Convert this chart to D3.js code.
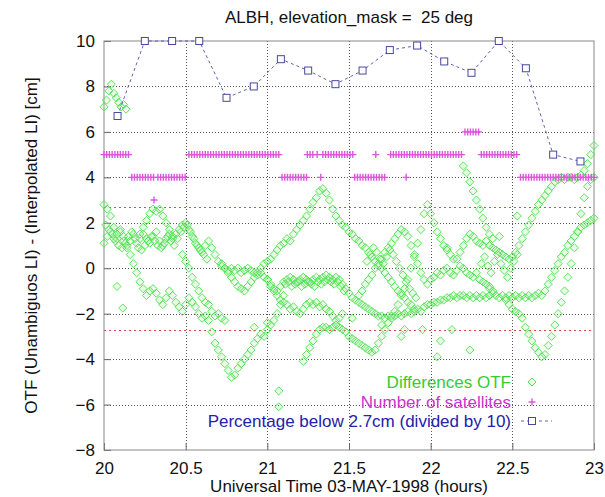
<!DOCTYPE html>
<html>
<head>
<meta charset="utf-8">
<script src="https://cdn.jsdelivr.net/npm/d3@7"></script>
<style>
  body { margin: 0; background: #fff; }
  text { font-family: "Liberation Sans", Arial, sans-serif; }
</style>
</head>
<body>
<div id="chart"></div>
<script>
// axis ticks
const xTicks = [20, 20.5, 21, 21.5, 22, 22.5, 23];
const yTicks = [-8, -6, -4, -2, 0, 2, 4, 6, 8, 10];
const limitLines = [2.7, -2.7];

// percentage below 2.7cm (divided by 10), one value per 10 minutes
const pctTimes = [20.083, 20.25, 20.417, 20.583, 20.75, 20.917, 21.083, 21.25, 21.417,
  21.583, 21.75, 21.917, 22.083, 22.25, 22.417, 22.583, 22.75, 22.917];
const pctValues = [6.7, 10, 10, 10, 7.5, 8.0, 9.2, 8.7, 8.1, 8.7, 9.6, 9.8, 9.1, 8.6, 10, 8.8, 5.0, 4.7];

// number of satellites: runs [from, to, count], one epoch per minute
const satStep = 1 / 60;
const satRuns = [
  [20.00, 20.16, 5], [20.17, 20.31, 4], [20.33, 20.50, 4], [20.52, 21.08, 5],
  [21.09, 21.24, 4], [21.245, 21.29, 5], [21.305, 21.32, 5], [21.34, 21.53, 5],
  [21.535, 21.73, 4], [21.755, 22.20, 5], [22.21, 22.30, 6], [22.31, 22.54, 5],
  [22.55, 23.00, 4]
];
const satSingles = [[20.306, 3], [21.327, 4], [21.664, 5], [21.85, 4]];

// differences OTF, one track per satellite arc, sampled every 0.02 h
const diffStep = 0.02;
const trackA = { t0: 20.00, v: [2.8, 2.6, 2.3, 1.8, 1.3, 1.6, 1.4, 1.0, 1.2, 1.5, 1.1, 1.3, 1.5, 1.3, 1.1, 1.4,
  1.6, 1.2, 1.0, 1.3, 1.5, 1.3, 1.5, 1.7, 1.9, 2.0, 1.7, 1.4, 1.1, 0.9, 0.7, 1.0, 1.2, 0.9, 0.6, 0.3,
  0.1, 0.0, -0.2, -0.4, -0.6, -0.8, -0.9, -1.0, -0.8, -0.6, -0.4, -0.2, 0.0, 0.2, 0.3, 0.4, 0.6, 0.8,
  1.0, 1.1, 1.3, 1.2, 1.5, 1.7, 1.9, 2.1, 2.3, 2.6, 2.9, 3.1, 3.4, 3.5, 3.3, 3.0, 2.6, 2.3, 2.1, 1.9,
  1.8, 1.6, 1.5, 1.3, 1.2, 1.0, 0.9, 0.7, 0.5, 0.3, 0.1, 0.0, -0.2, -0.4, -0.6, -0.8, -1.0, -1.1,
  -1.3, -1.5, -1.6, -1.8] };
const trackA2 = { t0: 20.22, v: [1.5, 1.8, 2.1, 2.4, 2.6, 2.5, 2.6, 2.3, 2.0, 1.7, 1.4] };
const trackA3 = { t0: 20.01, v: [1.9, 1.7, 1.5, 1.2, 1.0, 0.9, 1.1, 1.4, 1.6, 1.3, 0.9, 0.8, 1.0, 1.2,
  1.4, 1.2, 1.0, 0.9, 1.1, 1.4, 1.2, 1.0, 1.3, 1.6, 1.8, 1.9, 1.6, 1.3, 1.0, 0.8, 0.6, 0.4] };
const trackB = { t0: 20.00, v: [1.1, 1.4, 1.6, 1.3, 1.5, 1.7, 1.2, 0.9, 0.6, 0.2, -0.2, -0.6, -0.9, -1.2,
  -1.0, -0.9, -1.1, -1.4, -1.6, -1.3, -1.0, -1.2, -1.5, -1.7, -1.9, -1.6, -1.3, -1.5, -1.7, -2.0,
  -2.2, -2.1, -2.3, -2.8, -3.3, -3.6, -3.9, -4.2, -4.5, -4.8, -4.7, -4.4, -4.2, -4.0, -3.8, -3.6,
  -3.3, -3.1, -2.9, -3.0, -2.7, -2.5, -2.3, -2.0, -1.6, -1.2] };
const trackB2 = { t0: 20.48, v: [0.6, 0.3, 0.0, -0.4, -0.7, -1.0, -1.3, -1.5, -1.6, -1.9, -2.1, -2.0, -2.2, -2.3] };
const trackC = { t0: 20.72, v: [0.2, 0.0, -0.1, 0.0, -0.1, 0.0, -0.2, -0.1, 0.0, -0.1, -0.2, -0.3, -0.2,
  -0.4, -0.5, -0.7, -0.9, -1.0, -0.8, -0.6, -0.5, -0.4, -0.5, -0.6, -0.5, -0.4, -0.5, -0.6, -0.5,
  -0.4, -0.5, -0.4, -0.3, -0.4, -0.5, -0.4, -0.5, -0.7, -0.9, -1.1, -1.3, -1.4, -1.5, -1.6, -1.7,
  -1.8, -1.9, -2.0, -2.1, -2.1, -2.2, -2.1, -2.2, -2.1, -2.0, -2.1, -2.0, -1.9, -2.0, -1.9, -1.8,
  -1.9, -1.7, -1.6, -1.6, -1.5, -1.5, -1.4, -1.4, -1.3, -1.3, -1.2, -1.3, -1.2, -1.2, -1.3, -1.2,
  -1.3, -1.2, -1.3, -1.2, -1.3, -1.2, -1.1, -1.2, -1.3, -1.2, -1.3, -1.2, -1.3, -1.2, -1.3, -1.2,
  -1.3, -1.2, -1.3, -1.2, -1.1, -1.2, -1.0, -0.7, -0.4, -0.1, 0.2, 0.5, 0.7, 1.0, 1.2, 1.4, 1.6,
  1.8, 1.9, 2.0, 2.1, 2.2] };
const trackC2 = { t0: 21.11, v: [-0.7, -0.6, -0.8, -0.7, -0.6, -0.8, -0.7, -0.6, -0.7, -0.8, -0.6, -0.7,
  -0.6, -0.5, -0.6, -0.7, -0.6, -0.8, -1.0] };
const trackD = { t0: 21.00, v: [-0.5, -0.8, -1.0, -1.2, -1.4, -1.5, -1.6, -1.8, -1.7, -1.9, -2.0, -1.8,
  -1.6, -1.5, -1.6, -1.5, -1.7, -1.6, -1.8, -1.9, -2.1, -2.3, -2.2, -2.0] };
const trackE = { t0: 21.22, v: [-4.1, -3.8, -3.5, -3.2, -2.9, -2.7, -2.6, -2.6, -2.7, -2.6, -2.5, -2.6,
  -2.7, -2.8, -3.0, -3.1, -3.2, -3.3, -3.4, -3.5, -3.6, -3.7, -3.6, -3.3, -3.0, -2.7, -2.4, -2.1,
  -1.9, -1.6, -1.2, -0.9, -0.5, 0.0, 0.5, 1.1, 1.7, 2.4, 2.8, 2.4, 2.0, 1.6, 1.3, 1.0, 0.8, 0.6,
  0.4, 0.4, 0.7, 1.0, 1.3, 1.5, 1.4, 1.2, 1.1, 1.0, 1.2, 1.0, 0.9, 0.8, 0.7, 0.6, 0.5, 0.4, 0.5,
  0.7, 1.0, 1.3, 1.6, 1.9, 2.2, 2.5, 2.8, 3.0, 3.2, 3.4, 3.6, 3.8, 3.9, 4.0, 3.9, 4.0, 4.0, 3.9,
  4.0, 4.1, 4.3, 4.6, 5.0, 5.4] };
const trackF = { t0: 22.20, v: [4.5, 4.2, 3.8, 3.4, 3.0, 2.6, 2.2, 1.8, 1.5, 1.3] };
const trackG = { t0: 22.46, v: [-1.4, -1.6, -1.8, -1.9, -2.0, -2.2, -2.6, -2.9, -3.2, -3.5, -3.7, -3.9,
  -3.8, -3.4, -3.0, -2.5, -2.0, -1.5, -1.0, -0.4, 0.2, 0.9, 1.6, 2.4, 3.1, 3.6, 3.9, 4.0] };
const trackH = { t0: 21.56, v: [-1.2, -1.0, -0.7, -0.5, -0.3, 0.0, 0.2, 0.4, 0.7, 0.9, 1.1, 1.3, 1.5,
  1.7, 1.6, 1.4, 1.0, 0.6, 0.2, -0.2, -0.5, -0.7] };
const trackI = { t0: 22.00, v: [-0.5, -0.4, -0.2, -0.3, -0.1, 0.0, -0.2, -0.3, -0.1, 0.1, 0.0, -0.2,
  -0.3, -0.4, -0.2, -0.5, -0.6, -0.7, -0.8, -1.0] };
const trackJ = { t0: 21.61, v: [0.3, 0.6, 0.9, 0.7, 0.4, 0.2, 0.5, 0.8, 0.6, 0.3, 0.0, -0.3, -0.6,
  -0.9, -1.1, -1.3] };
const trackK = { t0: 22.31, v: [0.2, 0.5, 0.1, -0.2, 0.3, 0.6, 0.2, -0.1, -0.4, 0.0, 0.3, 0.6] };
const trackTop = { t0: 20.00, v: [7.1, 7.4, 7.8, 8.1, 7.7, 7.5, 7.3, 7.1, 7.2, 7.0], dt: 0.015 };
const diffTracks = [trackTop, trackA, trackA2, trackA3, trackB, trackB2, trackC, trackC2, trackD,
  trackE, trackF, trackG, trackH, trackI, trackJ, trackK];
const diffOutliers = [[20.08, -0.8], [20.115, -1.75], [21.07, -5.4], [21.07, -6.1], [21.82, -3.0],
  [21.84, -2.7], [21.95, -2.7], [22.04, -3.9], [22.06, -3.2], [22.13, -2.7], [22.24, -3.6], [22.53, 2.3],
  [21.52, -2.2], [21.7, -2.5], [22.1, 0.9], [22.36, -0.9], [22.42, 1.4], [20.92, -2.6], [21.0, -2.4]];

const legendLabels = ['Differences OTF', 'Number of satellites', 'Percentage below 2.7cm (divided by 10)'];

const width = 605, height = 497;
const margin = { top: 41, right: 11, bottom: 47, left: 104 };

const svg = d3.select('#chart').append('svg')
  .attr('width', width)
  .attr('height', height);

const x = d3.scaleLinear().domain([20, 23]).range([margin.left, width - margin.right]);
const y = d3.scaleLinear().domain([-8, 10]).range([height - margin.bottom, margin.top]);
const crisp = v => Math.round(v) + 0.5;

// grid
svg.append('g').selectAll('line')
  .data(xTicks.slice(1, -1))
  .enter().append('line')
  .attr('x1', d => crisp(x(d))).attr('x2', d => crisp(x(d)))
  .attr('y1', y(-8)).attr('y2', y(10))
  .attr('stroke', '#555').attr('stroke-width', 1).attr('stroke-dasharray', '1,2');
svg.append('g').selectAll('line')
  .data(yTicks.slice(1, -1))
  .enter().append('line')
  .attr('x1', x(20)).attr('x2', x(23))
  .attr('y1', d => crisp(y(d))).attr('y2', d => crisp(y(d)))
  .attr('stroke', '#555').attr('stroke-width', 1).attr('stroke-dasharray', '1,2');

// +-2.7 cm limits
svg.append('g').selectAll('line')
  .data(limitLines)
  .enter().append('line')
  .attr('x1', x(20)).attr('x2', x(23))
  .attr('y1', d => crisp(y(d))).attr('y2', d => crisp(y(d)))
  .attr('stroke', '#e04848').attr('stroke-width', 1).attr('stroke-dasharray', '2,3');

// axes
const xAxis = svg.append('g')
  .attr('transform', `translate(0,${y(-8)})`)
  .call(d3.axisBottom(x).tickValues(xTicks).tickFormat(d3.format('')).tickSize(-7).tickPadding(12));
const yAxis = svg.append('g')
  .attr('transform', `translate(${x(20)},0)`)
  .call(d3.axisLeft(y).tickValues(yTicks).tickSize(-7).tickPadding(9));
[xAxis, yAxis].forEach(a => {
  a.select('.domain').remove();
  a.selectAll('line').attr('stroke', '#666');
  a.selectAll('text').attr('font-size', 17).attr('fill', '#111')
    .style('font-family', '"Liberation Sans", Arial, sans-serif');
});
svg.append('rect')
  .attr('x', x(20)).attr('y', y(10))
  .attr('width', x(23) - x(20)).attr('height', y(-8) - y(10))
  .attr('fill', 'none').attr('stroke', '#888');

// green differences
const diffPoints = [];
diffTracks.forEach(tr => {
  const dt = tr.dt || diffStep;
  tr.v.forEach((v, i) => diffPoints.push([tr.t0 + i * dt, v]));
});
diffOutliers.forEach(p => diffPoints.push(p));

const diamond = d3.symbol().type(d3.symbolDiamond2).size(42);
svg.append('g').selectAll('path')
  .data(diffPoints)
  .enter().append('path')
  .attr('d', diamond)
  .attr('transform', d => `translate(${x(d[0])},${y(d[1])})`)
  .attr('fill', 'rgba(140,240,140,0.2)')
  .attr('stroke', '#4ee04e')
  .attr('stroke-opacity', 0.9)
  .attr('stroke-width', 1);

// satellites
const satPoints = [];
satRuns.forEach(r => {
  for (let t = r[0]; t <= r[1] + 1e-9; t += satStep) satPoints.push([t, r[2]]);
});
satSingles.forEach(p => satPoints.push(p));

svg.append('g').selectAll('path')
  .data(satPoints)
  .enter().append('path')
  .attr('d', 'M-3.5,0H3.5M0,-3.5V3.5')
  .attr('transform', d => `translate(${x(d[0])},${y(d[1])})`)
  .attr('stroke', '#dd55dd')
  .attr('stroke-width', 1.4)
  .attr('fill', 'none');

// percentage line
const pct = pctTimes.map((t, i) => [t, pctValues[i]]);
svg.append('path')
  .datum(pct)
  .attr('d', d3.line().x(d => x(d[0])).y(d => y(d[1])))
  .attr('fill', 'none')
  .attr('stroke', '#6060b0')
  .attr('stroke-width', 1)
  .attr('stroke-dasharray', '3,3');
svg.append('g').selectAll('rect')
  .data(pct)
  .enter().append('rect')
  .attr('x', d => x(d[0]) - 3.5).attr('y', d => y(d[1]) - 3.5)
  .attr('width', 7).attr('height', 7)
  .attr('fill', '#fff').attr('stroke', '#4848a0').attr('stroke-width', 1);

// legend
const legendColors = ['#33cc33', '#cc33cc', '#2222aa'];
const legendY = [382, 402, 421];
const legend = svg.append('g');
legend.selectAll('text')
  .data(legendLabels)
  .enter().append('text')
  .attr('x', 511)
  .attr('y', (d, i) => legendY[i] + 6)
  .attr('text-anchor', 'end')
  .attr('font-size', 17)
  .attr('fill', (d, i) => legendColors[i])
  .text(d => d);
legend.append('path')
  .attr('d', diamond)
  .attr('transform', `translate(532,${legendY[0]})`)
  .attr('fill', 'rgba(140,240,140,0.2)').attr('stroke', '#4ee04e');
legend.append('path')
  .attr('d', 'M-3.5,0H3.5M0,-3.5V3.5')
  .attr('transform', `translate(532,${legendY[1]})`)
  .attr('stroke', '#dd55dd').attr('stroke-width', 1.4);
legend.append('line')
  .attr('x1', 521).attr('x2', 552).attr('y1', legendY[2]).attr('y2', legendY[2])
  .attr('stroke', '#6060b0').attr('stroke-dasharray', '3,3');
legend.append('rect')
  .attr('x', 528.5).attr('y', legendY[2] - 3.5).attr('width', 7).attr('height', 7)
  .attr('fill', '#fff').attr('stroke', '#4848a0');

// titles
svg.append('text')
  .attr('x', (x(20) + x(23)) / 2).attr('y', 23)
  .attr('text-anchor', 'middle').attr('font-size', 17).attr('fill', '#111')
  .style('white-space', 'pre')
  .text('ALBH, elevation_mask =  25 deg');
svg.append('text')
  .attr('x', (x(20) + x(23)) / 2).attr('y', 492)
  .attr('text-anchor', 'middle').attr('font-size', 17).attr('fill', '#111')
  .text('Universal Time 03-MAY-1998 (hours)');
svg.append('text')
  .attr('transform', `translate(37,${(y(-8) + y(10)) / 2}) rotate(-90)`)
  .attr('text-anchor', 'middle').attr('font-size', 17).attr('fill', '#111')
  .text('OTF (Unambiguos LI) - (Interpolated LI) [cm]');
</script>
</body>
</html>
